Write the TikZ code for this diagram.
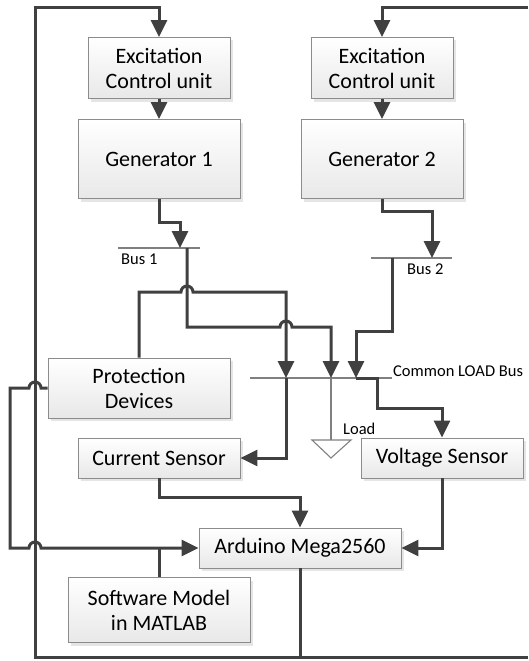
\documentclass[tikz,border=0pt]{standalone}
\usepackage{fontspec}
\setmainfont{Carlito}
\usetikzlibrary{arrows.meta,shadows,calc}

\tikzset{
  block/.style={draw=black!45, line width=0.9pt, top color=white, bottom color=black!9,
    drop shadow={shadow xshift=3pt, shadow yshift=-3pt, fill=black!25, opacity=0.4},
    text=black, align=center, font=\fontsize{22}{25}\selectfont, inner sep=0pt},
  wire/.style={draw=black!75, line width=3pt},
  arr/.style={wire, -{Triangle[length=17pt,width=16pt]}},
  busbar/.style={draw=black!50, line width=1.4pt},
  lbl/.style={text=black, font=\fontsize{16.5}{19}\selectfont, inner sep=0pt}
}

\begin{document}
\begin{tikzpicture}[x=1pt, y=-1pt]
  \useasboundingbox (0,0) rectangle (528,661);
  % Blocks
  \node[block, minimum width=142pt, minimum height=61pt] (exc1) at (159,68) {Excitation\\Control unit};
  \node[block, minimum width=162pt, minimum height=79pt] (gen1) at (159,159) {Generator 1};
  \node[block, minimum width=142pt, minimum height=61pt] (exc2) at (382,68) {Excitation\\Control unit};
  \node[block, minimum width=162pt, minimum height=79pt] (gen2) at (382,159) {Generator 2};
  \node[block, minimum width=182pt, minimum height=60pt] (prot) at (139,388) {Protection\\Devices};
  \node[block, minimum width=162pt, minimum height=40pt] (cur) at (159,458) {Current Sensor};
  \node[block, minimum width=162pt, minimum height=40pt] (volt) at (442,458) {Voltage Sensor};
  \node[block, minimum width=202pt, minimum height=40pt] (ard) at (300,548) {Arduino Mega2560};
  \node[block, minimum width=182pt, minimum height=65pt] (soft) at (159,610) {Software Model\\in MATLAB};
  % Bus bars
  \coordinate (bus1l) at (118,248);
  \coordinate (bus1r) at (200,248);
  \coordinate (bus2l) at (371,258);
  \coordinate (bus2r) at (452,258);
  \coordinate (cbusl) at (250,378);
  \coordinate (cbusr) at (392,378);
  \draw[busbar] (bus1l) -- (bus1r);
  \draw[busbar] (bus2l) -- (bus2r);
  \draw[busbar] (cbusl) -- (cbusr);
  \node[lbl, anchor=west] (bus1lbl) at (121,259) {Bus 1};
  \node[lbl, anchor=west] (bus2lbl) at (407,269) {Bus 2};
  \node[lbl, anchor=west] (cbuslbl) at (393,371) {Common LOAD Bus};
  % Load
  \coordinate (load) at (331,440);
  \draw[busbar, line width=1.1pt] (331,378) -- (load);
  \draw[busbar, line width=1.1pt, fill=white] (312,440) -- (351,440) -- (331,458) -- cycle;
  \node[lbl, anchor=west] (loadlbl) at (343,429) {Load};
  % Outer feedback loop
  \coordinate (looptl) at (35,8);
  \coordinate (loopbl) at (35,657);
  \coordinate (looptr) at (528,8);
  \coordinate (loopbr) at (528,657);
  \draw[wire] (ard.south) -- (ard.south |- loopbl);
  \draw[arr] (loopbr) -- (loopbl) -- (looptl) -| (exc1.north);
  \draw[arr] (looptr) -| (exc2.north);
  % Excitation to generators
  \draw[arr] (exc1) -- (gen1);
  \draw[arr] (exc2) -- (gen2);
  % Generators to buses
  \draw[arr] (gen1.south) -- ++(0,24) -| (180,248);
  \draw[arr] (gen2.south) -- ++(0,13) -| (432,258);
  % Bus 1 to common bus
  \draw[arr] (187,248) -- (187,327) -- (280,327) arc[start angle=180, end angle=0, radius=6pt]
    -- (331,327) -- (331,378);
  % Protection to common bus and current sensor
  \draw[arr] (prot.north) -- (139,292) -- (181,292) arc[start angle=180, end angle=0, radius=6pt]
    -- (286,292) -- (286,378);
  \draw[arr] (286,378) |- (cur.east);
  % Bus 2 to common bus
  \draw[arr] (392,258) -- (392,331) -| (356,378);
  % Common bus to voltage sensor
  \draw[arr] (356,378) -- (377,378) -- (377,408) -| (volt.north);
  % Sensors to Arduino
  \draw[arr] (cur.south) -- ++(0,19) -| (ard.north);
  \draw[arr] (volt.south) |- (ard.east);
  % Protection to Arduino
  \draw[arr] (prot.west) -- (41,388) arc[start angle=0, end angle=180, radius=6pt]
    -- (10,388) -- (10,548) -- (29,548) arc[start angle=180, end angle=0, radius=6pt]
    -- (ard.west);
  \draw[wire] (soft.north) -- (soft.north |- ard.west);
\end{tikzpicture}
\end{document}
